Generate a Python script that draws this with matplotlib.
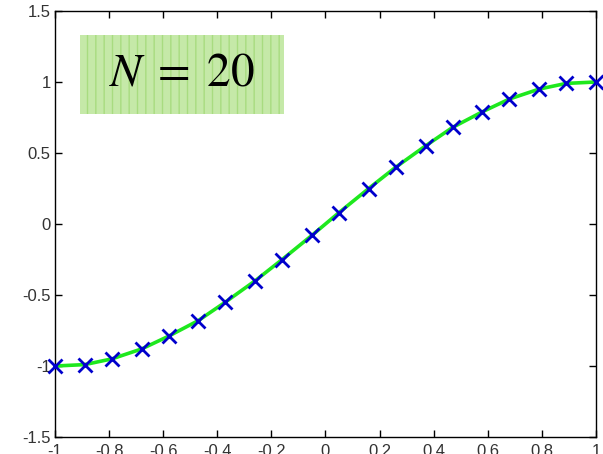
import matplotlib
matplotlib.use("Agg")
from matplotlib import pyplot as plt
from matplotlib.patches import Rectangle

# sample points and values
x_pts = [-1.0, -0.89, -0.79, -0.68, -0.58, -0.47, -0.37, -0.26, -0.16, -0.05,
         0.05, 0.16, 0.26, 0.37, 0.47, 0.58, 0.68, 0.79, 0.89, 1.0]
y_pts = [-1.0, -0.99, -0.95, -0.88, -0.79, -0.68, -0.55, -0.40, -0.25, -0.08,
         0.08, 0.25, 0.40, 0.55, 0.68, 0.79, 0.88, 0.95, 0.99, 1.0]
x_ticks = [-1, -0.8, -0.6, -0.4, -0.2, 0, 0.2, 0.4, 0.6, 0.8, 1]
x_labels = ["-1", "-0.8", "-0.6", "-0.4", "-0.2", "0", "0.2", "0.4", "0.6", "0.8", "1"]
y_ticks = [-1.5, -1, -0.5, 0, 0.5, 1, 1.5]
y_labels = ["-1.5", "-1", "-0.5", "0", "0.5", "1", "1.5"]
label = r"$N\;=\;20$"

plt.rcParams["font.family"] = ["Liberation Sans", "DejaVu Sans"]
plt.rcParams["mathtext.fontset"] = "stix"
plt.rcParams["hatch.linewidth"] = 1.0

fig = plt.figure(figsize=(6.03, 4.54), dpi=100)
ax = fig.add_axes([0.0912, 0.0374, 0.897, 0.9384])

ax.plot(x_pts, y_pts, color="#1ee81e", lw=2.6, zorder=2, clip_on=False)
ax.plot(x_pts, y_pts, ls="none", marker="x", ms=10, mew=2, color="#0000cc",
        zorder=3, clip_on=False)

box = Rectangle((-0.908, 0.775), 0.755, 0.556, facecolor="#c5e9a8",
                edgecolor="#a8dc80", linewidth=0, hatch="||", zorder=1)
ax.add_patch(box)
ax.text(-0.53, 1.06, label, fontsize=34, ha="center", va="center", zorder=4)

ax.set_xlim(-1, 1)
ax.set_ylim(-1.5, 1.5)
ax.set_xticks(x_ticks)
ax.set_xticklabels(x_labels)
ax.set_yticks(y_ticks)
ax.set_yticklabels(y_labels)
ax.tick_params(direction="in", top=True, right=True, length=5, width=1,
               labelsize=12, labelcolor="#333333")
ax.tick_params(axis="x", pad=5)
ax.tick_params(axis="y", pad=3)
for s in ax.spines.values():
    s.set_linewidth(1)

fig.savefig("out.png", dpi=100)
